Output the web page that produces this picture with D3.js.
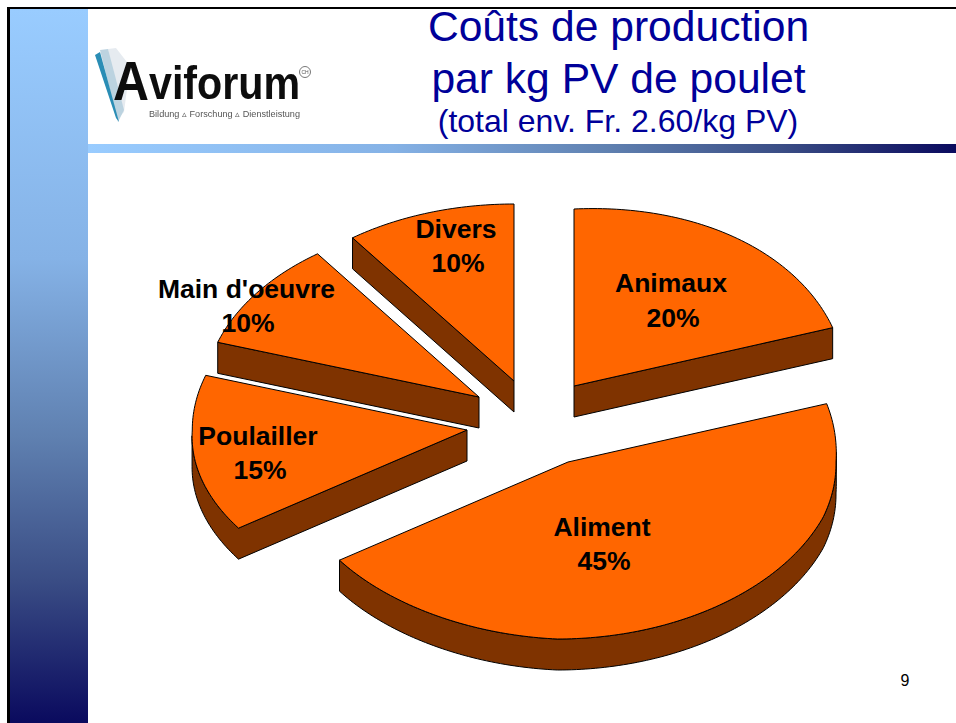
<!DOCTYPE html>
<html><head><meta charset="utf-8">
<script src="https://cdn.jsdelivr.net/npm/d3@7/dist/d3.min.js"></script>
<style>html,body{margin:0;padding:0;background:#fff;overflow:hidden}svg{display:block}text{font-family:"Liberation Sans",Arial,sans-serif}</style>
</head><body>
<script>
const categories = ["Animaux","Aliment","Poulailler","Main d'oeuvre","Divers"];
const shares = [20,45,15,10,10];
const percentLabels = ["20%","45%","15%","10%","10%"];
const titleLines = ["Coûts de production","par kg PV de poulet"];
const subtitle = "(total env. Fr. 2.60/kg PV)";
const pageNumber = "9";

const W=956,H=723;
const orange="#FF6600",dark="#7F3300",navy="#000099";
const rx=272,ry=177,depth=31;
const center={x:533,y:422};
const shift=[[41,-36],[35,40],[-66,8],[-54,-25],[-19,-41]];
const labelPos=[[671,283],[602,527],[258,436],[246.5,289],[456,229]];
const pctPos=[[673,318],[604,561],[260,470],[248,323],[458,263]];
const drawOrder=[4,3,0,2,1];

const svg=d3.select("body").append("svg").attr("width",W).attr("height",H);
const defs=svg.append("defs");
const stops=[[0,"#99CCFF"],[.35,"#85B2E6"],[.6,"#5F80B0"],[.8,"#3A4D85"],[1,"#0A0A5E"]];
[["gv",0,1],["gh",1,0]].forEach(([id,x2,y2])=>{
  const g=defs.append("linearGradient").attr("id",id).attr("x1",0).attr("y1",0).attr("x2",x2).attr("y2",y2);
  stops.forEach(s=>g.append("stop").attr("offset",s[0]).attr("stop-color",s[1]));
});
defs.append("filter").attr("id","soft").append("feGaussianBlur").attr("stdDeviation",0.6);

svg.append("rect").attr("x",10).attr("y",9).attr("width",78).attr("height",H-9).attr("fill","url(#gv)");
svg.append("rect").attr("x",88).attr("y",144).attr("width",W-88).attr("height",9).attr("fill","url(#gh)");
svg.append("rect").attr("x",7).attr("y",7).attr("width",3).attr("height",H-7).attr("fill","#000");
svg.append("rect").attr("x",7).attr("y",7).attr("width",W-7).attr("height",2).attr("fill","#000");

// logo
const logo=svg.append("g").attr("filter","url(#soft)");
const wing=d3.line();
[["#e6ebf0",[[108,49],[116,48],[130,66],[124,112],[118,118]]],
 ["#bcd3e0",[[100,50],[108,49],[124,110],[118,122]]],
 ["#2a8db5",[[95,55],[100,52],[119,122],[116,118]]]]
 .forEach(([c,p])=>logo.append("path").attr("d",wing(p)+"Z").attr("fill",c));
logo.append("text").attr("x",113).attr("y",100).attr("font-size",56).attr("font-weight","bold").attr("fill","#0a0a0a").attr("textLength",36).attr("lengthAdjust","spacingAndGlyphs").text("A");
logo.append("text").attr("x",149).attr("y",99).attr("font-size",46).attr("font-weight","bold").attr("fill","#0a0a0a").attr("textLength",151).attr("lengthAdjust","spacingAndGlyphs").text("viforum");
logo.append("text").attr("x",149).attr("y",117).attr("font-size",9).attr("fill","#555").attr("textLength",151).attr("lengthAdjust","spacingAndGlyphs").text("Bildung ▵ Forschung ▵ Dienstleistung");
logo.append("circle").attr("cx",305).attr("cy",72).attr("r",5.5).attr("fill","none").attr("stroke","#777");
logo.append("text").attr("x",305).attr("y",74).attr("font-size",5).attr("text-anchor","middle").attr("fill","#555").text("CH");

// title
svg.append("g").selectAll("text").data(titleLines).join("text")
  .attr("x",618.5).attr("y",(d,i)=>41+i*52).attr("text-anchor","middle").attr("font-size",42.6).attr("fill",navy).text(d=>d);
svg.append("text").attr("x",618).attr("y",132).attr("text-anchor","middle").attr("font-size",32).attr("fill",navy).text(subtitle);

// pie: d3.pie angles projected onto a slightly distorted ellipse (the reference's 3D view)
const pie=d3.pie().sort(null).startAngle(0).endAngle(2*Math.PI);
const arcs=pie(shares);
const line=d3.line();
const pt=a=>{
  let x=rx*Math.sin(a),y=-ry*Math.cos(a);
  const x0=x,y0=y;
  if(x0<0) x*=1.01;
  if(y0>0) x-=0.06*y0;
  if(x0>0) x-=4*Math.max(0,1-Math.abs(y0)/55);
  if(x0*y0<0) y=y0*(1+0.07*x0/rx);
  return [x,y];
};
function outline(d){
  const pts=[[0,0]];
  const n=Math.ceil((d.endAngle-d.startAngle)/(Math.PI/180));
  d3.range(n+1).forEach(i=>pts.push(pt(d.startAngle+(d.endAngle-d.startAngle)*i/n)));
  pts.push([0,0]);
  return pts;
}
function wallRuns(d){
  const pts=outline(d),runs=[];let cur=null;
  for(let i=0;i<pts.length-1;i++){
    if(pts[i+1][0]-pts[i][0]<0){
      if(!cur){cur=[pts[i]];runs.push(cur);}
      cur.push(pts[i+1]);
    } else cur=null;
  }
  return runs;
}
const gPie=svg.append("g");
drawOrder.forEach(i=>{
  const d=arcs[i];
  const g=gPie.append("g").attr("transform",`translate(${center.x+shift[i][0]},${center.y+shift[i][1]})`);
  wallRuns(d).forEach(run=>{
    const poly=run.concat(run.slice().reverse().map(p=>[p[0],p[1]+depth]));
    g.append("path").attr("d",line(poly)+"Z").attr("fill",dark).attr("stroke","#000").attr("stroke-width",1).attr("stroke-linejoin","round");
  });
  g.append("path").attr("d",line(outline(d))+"Z")
    .attr("fill",orange).attr("stroke","#000").attr("stroke-width",1).attr("stroke-linejoin","round");
});

// labels
const gLab=svg.append("g").attr("font-weight","bold").attr("font-size",26.5).attr("fill","#000").attr("text-anchor","middle");
categories.forEach((c,i)=>{
  gLab.append("text").attr("x",labelPos[i][0]).attr("y",labelPos[i][1]+9).text(c);
  gLab.append("text").attr("x",pctPos[i][0]).attr("y",pctPos[i][1]+9).text(percentLabels[i]);
});
svg.append("text").attr("x",905).attr("y",686).attr("text-anchor","middle").attr("font-size",16).attr("fill","#000").text(pageNumber);
</script>
</body></html>
